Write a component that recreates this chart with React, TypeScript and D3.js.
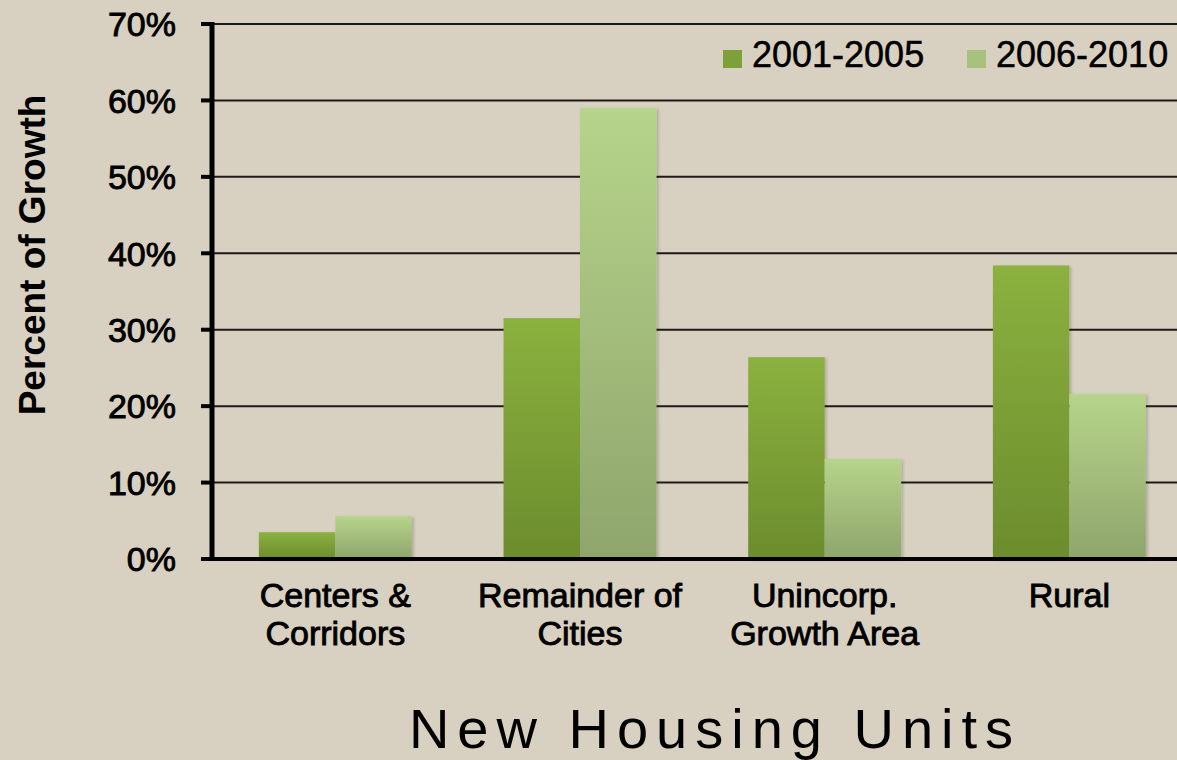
import React from "react";
import * as d3 from "d3";

const categories: string[][] = [
  ["Centers &", "Corridors"],
  ["Remainder of", "Cities"],
  ["Unincorp.", "Growth Area"],
  ["Rural"],
];
const seriesNames = ["2001-2005", "2006-2010"];
const values2001_2005 = [3.5, 31.5, 26.4, 38.4];
const values2006_2010 = [5.6, 59.0, 13.1, 21.6];
const yTicks = [0, 10, 20, 30, 40, 50, 60, 70];

const W = 1177;
const H = 760;
const BG = "#d8d0c0";

export default function App() {
  const catKeys = categories.map((c) => c.join(" "));
  const x = d3
    .scaleBand<string>()
    .domain(catKeys)
    .range([213, 213 + 4 * 244.67])
    .paddingInner(0.375)
    .paddingOuter(0.1875);
  const xs = d3.scaleBand<string>().domain(seriesNames).range([0, x.bandwidth()]);
  const y = d3.scaleLinear().domain([0, 70]).range([559, 24]);
  const seriesVals = [values2001_2005, values2006_2010];
  const grads = ["gDark", "gLight"];
  const legendFill = ["#7da038", "#a6c27c"];

  return (
    <svg
      width={W}
      height={H}
      style={{ position: "fixed", left: 0, top: 0, display: "block" }}
      fontFamily="'Liberation Sans', Arial, sans-serif"
    >
      <defs>
        <linearGradient id="gDark" x1="0" y1="0" x2="0" y2="1">
          <stop offset="0" stopColor="#8bb13f" />
          <stop offset="1" stopColor="#6c8c2d" />
        </linearGradient>
        <linearGradient id="gLight" x1="0" y1="0" x2="0" y2="1">
          <stop offset="0" stopColor="#b6d48b" />
          <stop offset="1" stopColor="#8fa56c" />
        </linearGradient>
        <filter id="shadow" x="-10%" y="-10%" width="130%" height="130%">
          <feDropShadow dx="2" dy="1" stdDeviation="1.5" floodColor="#000" floodOpacity="0.18" />
        </filter>
      </defs>
      <rect x={0} y={0} width={W} height={H} fill={BG} />

      {/* gridlines */}
      {yTicks
        .filter((t) => t > 0)
        .map((t) => (
          <line key={t} x1={213} x2={W} y1={y(t)} y2={y(t)} stroke="#1e1a16" strokeWidth={2} />
        ))}

      {/* bars */}
      {categories.map((c, i) => (
        <g key={i} transform={`translate(${x(catKeys[i])},0)`}>
          {seriesNames.map((s, j) => (
            <rect
              key={s}
              x={xs(s)}
              width={xs.bandwidth()}
              y={y(seriesVals[j][i])}
              height={y(0) - y(seriesVals[j][i])}
              fill={`url(#${grads[j]})`}
              filter="url(#shadow)"
            />
          ))}
        </g>
      ))}

      {/* axes */}
      <line x1={212} x2={212} y1={22} y2={561} stroke="#000" strokeWidth={5} />
      <line x1={210} x2={W} y1={y(0)} y2={y(0)} stroke="#000" strokeWidth={4} />
      {yTicks.map((t) => (
        <g key={t}>
          <line x1={201} x2={213} y1={y(t)} y2={y(t)} stroke="#000" strokeWidth={4} />
          <text
            x={176}
            y={y(t)}
            dy="0.36em"
            textAnchor="end"
            fontSize={34}
            fill="#000"
            stroke="#000"
            strokeWidth={0.9}
          >
            {t}%
          </text>
        </g>
      ))}

      {/* category labels */}
      {categories.map((c, i) => (
        <text
          key={i}
          x={(x(catKeys[i]) as number) + x.bandwidth() / 2}
          y={607}
          textAnchor="middle"
          fontSize={34}
          fill="#000"
          stroke="#000"
          strokeWidth={0.9}
        >
          {c.map((line, k) => (
            <tspan key={k} x={(x(catKeys[i]) as number) + x.bandwidth() / 2} dy={k === 0 ? 0 : 38}>
              {line}
            </tspan>
          ))}
        </text>
      ))}

      {/* y title */}
      <text
        transform="translate(45,255) rotate(-90)"
        textAnchor="middle"
        fontSize={37}
        fontWeight="bold"
        fill="#000"
      >
        Percent of Growth
      </text>

      {/* legend */}
      {seriesNames.map((s, j) => {
        const lx = [723, 967][j];
        return (
          <g key={s}>
            <rect x={lx} y={50} width={19} height={18} fill={legendFill[j]} />
            <text x={lx + 29} y={67} fontSize={36} fill="#000" stroke="#000" strokeWidth={0.5}>
              {s}
            </text>
          </g>
        );
      })}

      {/* title */}
      <text x={715} y={748} textAnchor="middle" fontSize={56} letterSpacing={8} fill="#000">
        New Housing Units
      </text>
    </svg>
  );
}
